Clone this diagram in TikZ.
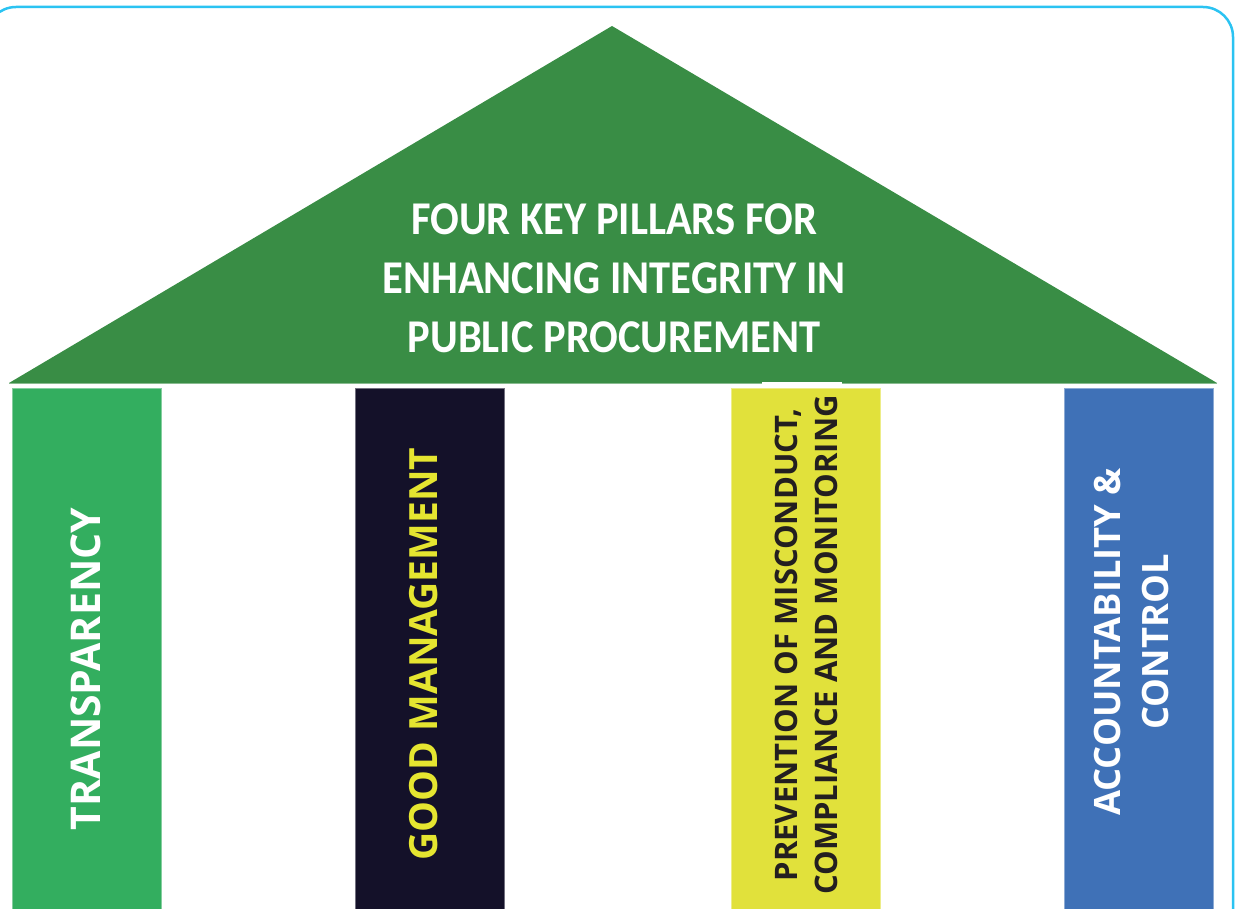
\documentclass[tikz,border=0pt]{standalone}
\usepackage{fontspec}
\setmainfont{Carlito}
\newfontfamily\pillarfont{Open Sans}
\definecolor{framecol}{RGB}{43,195,242}
\definecolor{roofcol}{RGB}{57,141,69}
\definecolor{transcol}{RGB}{51,174,95}
\definecolor{goodcol}{RGB}{20,17,41}
\definecolor{goodtext}{RGB}{229,229,48}
\definecolor{prevcol}{RGB}{225,225,59}
\definecolor{prevtext}{RGB}{35,31,32}
\definecolor{acccol}{RGB}{63,113,183}
\tikzset{
  pillar/.style={anchor=north west, minimum width=149pt, minimum height=540pt, inner sep=0pt, line width=0.8pt},
  ptext/.style={rotate=90, align=center, inner sep=0pt},
}
\begin{document}
\begin{tikzpicture}[x=1pt,y=-1pt]
\useasboundingbox (0,0) rectangle (1241,909);
\clip (0,0) rectangle (1241,909);
% frame
\draw[framecol, line width=2.5pt, rounded corners=30pt] (-14,7) rectangle (1233,940);
% roof
\coordinate (apex) at (612,26);
\coordinate (bl) at (9,383);
\coordinate (br) at (1217,383);
\fill[roofcol] (apex) -- (br) -- (bl) -- cycle;
\draw[roofcol!60!white, line width=0.8pt] (bl) -- (br);
\node[text=white, inner sep=0pt] (title) at (614,282)
  {\scalebox{0.905}[1]{\fontsize{47}{59}\selectfont\bfseries
   \begin{tabular}{@{}c@{}}FOUR KEY PILLARS FOR\\ENHANCING INTEGRITY IN\\PUBLIC PROCUREMENT\end{tabular}}};
% small white notch
\fill[white] (762,381.5) rectangle (842,385);
% pillars
\node[pillar, fill=transcol, draw=transcol!60!white] (p1) at (12,387.5) {};
\node[pillar, fill=goodcol, draw=goodcol!60!white] (p2) at (355,387.5) {};
\node[pillar, fill=prevcol, draw=prevcol!60!white] (p3) at (731,387.5) {};
\node[pillar, fill=acccol, draw=acccol!60!white] (p4) at (1064,387.5) {};
% pillar texts
\node[ptext, text=white, font={\pillarfont\bfseries\fontsize{41}{44}\selectfont}] (t1) at (86,669) {TRANSPARENCY};
\node[ptext, text=goodtext, font={\pillarfont\bfseries\fontsize{38.9}{44}\selectfont}] (t2) at (424,654) {GOOD MANAGEMENT};
\node[ptext, text=prevtext, font={\pillarfont\bfseries\fontsize{31}{40}\selectfont}] (t3) at (806,645) {PREVENTION OF MISCONDUCT,\\COMPLIANCE AND MONITORING};
\node[ptext, text=white, font={\pillarfont\bfseries\fontsize{36.3}{48}\selectfont}] (t4) at (1131,642) {ACCOUNTABILITY \&\\CONTROL};
\end{tikzpicture}
\end{document}
